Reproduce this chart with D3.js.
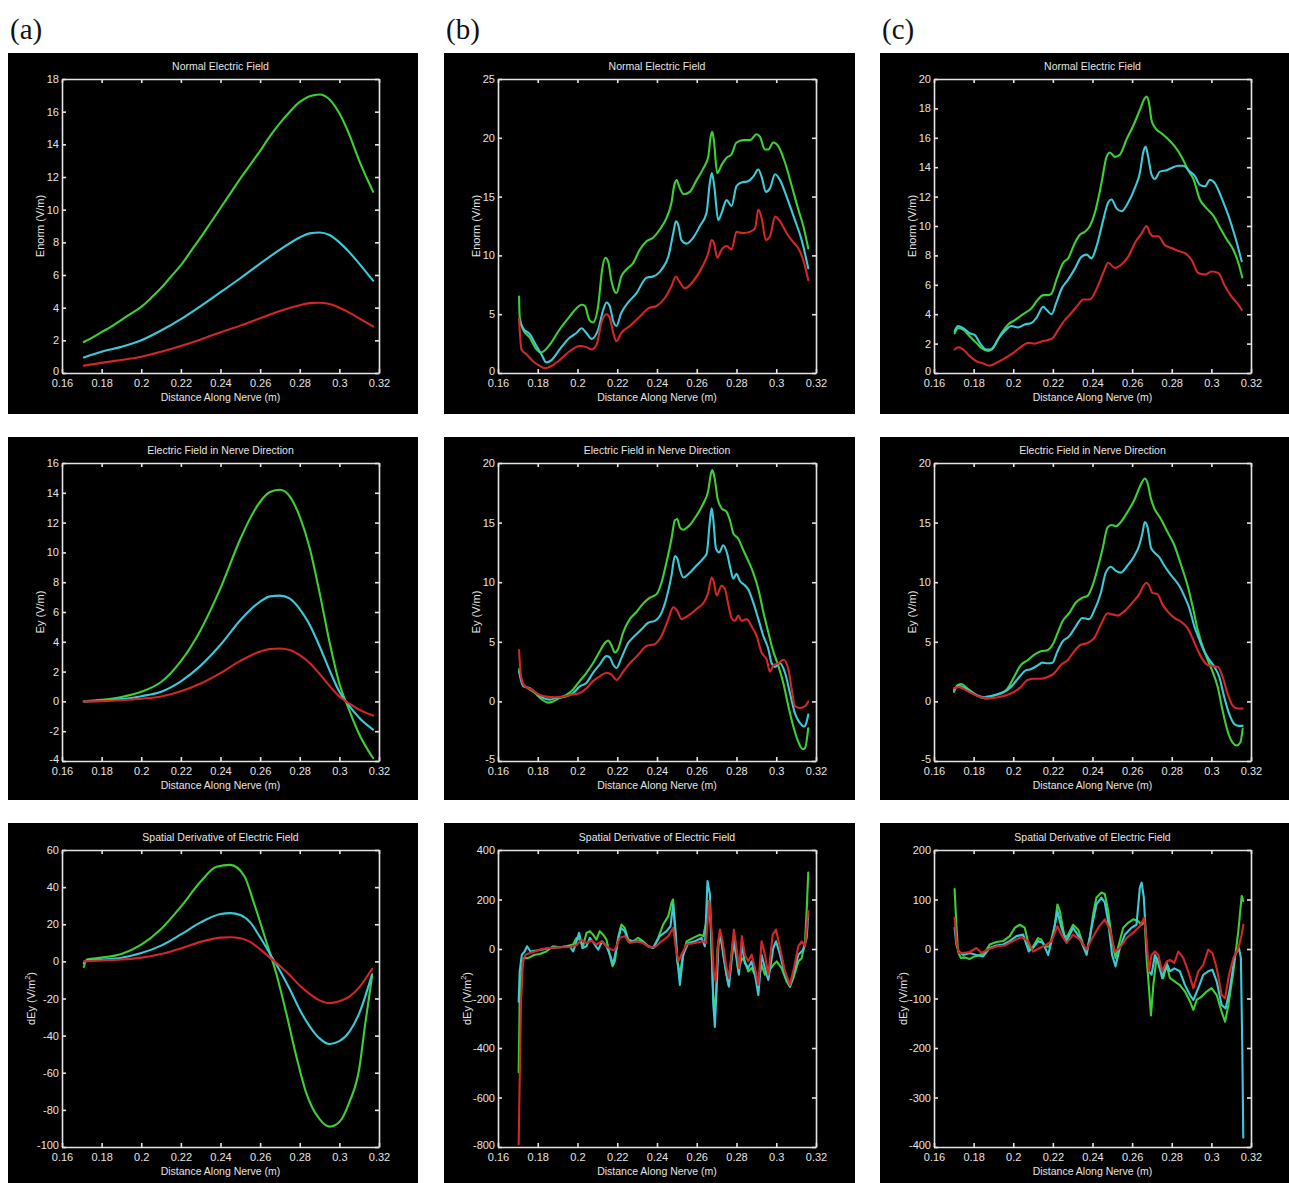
<!DOCTYPE html>
<html><head><meta charset="utf-8">
<script src="https://cdn.jsdelivr.net/npm/d3@7"></script>
<style>body{margin:0;background:#fff}svg{display:block}</style>
</head><body>
<svg id="chart" width="1289" height="1183"></svg>
<script>
// ---------------- DATA ----------------
const panelLetters = ["(a)", "(b)", "(c)"];
const rowTitles = ["Normal Electric Field", "Electric Field in Nerve Direction", "Spatial Derivative of Electric Field"];
const rowYLabels = ["Enorm (V/m)", "Ey (V/m)", "dEy (V/m"];
const xLabel = "Distance Along Nerve (m)";
const xTicks = [0.16, 0.18, 0.2, 0.22, 0.24, 0.26, 0.28, 0.3, 0.32];
const xTickLabels = ["0.16", "0.18", "0.2", "0.22", "0.24", "0.26", "0.28", "0.3", "0.32"];

const a1YTicks = [0, 2, 4, 6, 8, 10, 12, 14, 16, 18];
const b1YTicks = [0, 5, 10, 15, 20, 25];
const c1YTicks = [0, 2, 4, 6, 8, 10, 12, 14, 16, 18, 20];
const a2YTicks = [-4, -2, 0, 2, 4, 6, 8, 10, 12, 14, 16];
const b2YTicks = [-5, 0, 5, 10, 15, 20];
const c2YTicks = [-5, 0, 5, 10, 15, 20];
const a3YTicks = [-100, -80, -60, -40, -20, 0, 20, 40, 60];
const b3YTicks = [-800, -600, -400, -200, 0, 200, 400];
const c3YTicks = [-400, -300, -200, -100, 0, 100, 200];

// (a) Normal electric field
const a1Green = [[0.171,1.9],[0.175,2.15],[0.18,2.5],[0.185,2.85],[0.19,3.25],[0.195,3.65],[0.2,4.05],[0.205,4.6],[0.21,5.2],[0.215,5.9],[0.22,6.6],[0.225,7.45],[0.23,8.3],[0.235,9.2],[0.24,10.1],[0.245,11.0],[0.25,11.9],[0.255,12.75],[0.26,13.6],[0.265,14.5],[0.27,15.3],[0.275,16.0],[0.28,16.6],[0.285,16.95],[0.29,17.05],[0.295,16.75],[0.3,15.9],[0.305,14.6],[0.31,13.0],[0.317,11.1]];
const a1Cyan = [[0.171,0.95],[0.18,1.3],[0.19,1.6],[0.2,2.0],[0.21,2.6],[0.22,3.3],[0.23,4.1],[0.24,4.95],[0.25,5.8],[0.26,6.7],[0.27,7.55],[0.28,8.3],[0.285,8.55],[0.29,8.6],[0.295,8.45],[0.3,8.0],[0.305,7.4],[0.31,6.7],[0.317,5.65]];
const a1Red = [[0.171,0.45],[0.18,0.62],[0.19,0.8],[0.2,1.0],[0.21,1.3],[0.22,1.65],[0.23,2.05],[0.24,2.5],[0.25,2.9],[0.26,3.35],[0.27,3.8],[0.28,4.15],[0.285,4.28],[0.29,4.3],[0.295,4.22],[0.3,4.0],[0.305,3.7],[0.31,3.35],[0.317,2.85]];
// (a) Ey
const a2Green = [[0.171,0],[0.18,0.1],[0.19,0.3],[0.2,0.65],[0.21,1.3],[0.22,2.7],[0.23,4.8],[0.24,7.6],[0.25,10.9],[0.255,12.3],[0.26,13.4],[0.265,14.05],[0.27,14.2],[0.275,13.75],[0.28,12.4],[0.285,10.3],[0.29,7.3],[0.295,4.0],[0.3,1.2],[0.305,-0.6],[0.31,-2.2],[0.317,-3.8]];
const a2Cyan = [[0.171,0],[0.18,0.05],[0.19,0.15],[0.2,0.35],[0.21,0.65],[0.22,1.35],[0.23,2.4],[0.24,3.8],[0.25,5.45],[0.26,6.7],[0.265,7.05],[0.27,7.1],[0.275,6.9],[0.28,6.2],[0.285,5.15],[0.29,3.7],[0.295,2.1],[0.3,0.65],[0.305,-0.3],[0.31,-1.1],[0.317,-1.9]];
const a2Red = [[0.171,0],[0.18,0.02],[0.19,0.08],[0.2,0.18],[0.21,0.33],[0.22,0.68],[0.23,1.2],[0.24,1.9],[0.25,2.72],[0.26,3.35],[0.265,3.52],[0.27,3.55],[0.275,3.45],[0.28,3.1],[0.285,2.58],[0.29,1.85],[0.295,1.05],[0.3,0.33],[0.305,-0.15],[0.31,-0.55],[0.317,-0.95]];
// (a) dEy
const a3Green = [[0.171,-3],[0.1725,1],[0.18,2],[0.19,4],[0.2,9],[0.21,17.5],[0.22,29.5],[0.23,43],[0.238,51],[0.245,52],[0.252,46],[0.257,31],[0.263,11],[0.268,-6],[0.273,-27],[0.278,-50],[0.283,-70],[0.29,-85],[0.295,-89],[0.3,-86.5],[0.305,-76],[0.31,-58],[0.313,-34],[0.3165,-8]];
const a3Cyan = [[0.171,-1],[0.1725,0.5],[0.18,1],[0.19,2],[0.2,4.5],[0.21,8.5],[0.22,14.5],[0.23,21],[0.24,25.5],[0.245,26],[0.25,25],[0.255,21],[0.26,13],[0.265,4],[0.27,-5],[0.275,-15],[0.28,-26],[0.285,-35],[0.29,-41.5],[0.295,-44.5],[0.3,-43],[0.305,-38],[0.31,-28],[0.3165,-7]];
const a3Red = [[0.171,0],[0.18,0.5],[0.19,1],[0.2,2],[0.21,4],[0.22,7],[0.23,10.5],[0.24,12.8],[0.245,13],[0.25,12.5],[0.255,10.5],[0.26,6.5],[0.265,2],[0.27,-2.5],[0.275,-7.5],[0.28,-13],[0.285,-17.5],[0.29,-21],[0.295,-22.5],[0.3,-21.5],[0.305,-19],[0.31,-14],[0.3165,-4]];

// (b) Normal electric field
const b1Green = [[0.1706,6.5],[0.1709,4.8],[0.1726,3.7],[0.176,3.0],[0.179,2.1],[0.1818,1.75],[0.186,2.4],[0.191,3.7],[0.196,4.8],[0.1995,5.5],[0.202,5.8],[0.2037,5.7],[0.206,4.5],[0.2078,4.3],[0.2104,5.7],[0.2124,8.8],[0.214,9.8],[0.2154,9.5],[0.217,7.9],[0.2188,6.9],[0.2196,6.8],[0.222,8.2],[0.2246,8.8],[0.228,9.35],[0.2314,10.5],[0.2347,11.2],[0.238,11.5],[0.2414,12.2],[0.2448,13.2],[0.2473,14.5],[0.2486,15.9],[0.2498,16.4],[0.2515,15.7],[0.2535,15.2],[0.2565,15.4],[0.2599,16.4],[0.2633,17.4],[0.2658,18.4],[0.267,20.1],[0.2678,20.5],[0.2686,19.8],[0.2703,17.0],[0.2725,17.7],[0.275,18.3],[0.2775,18.6],[0.28,19.6],[0.2834,19.8],[0.2868,19.8],[0.2901,20.3],[0.2918,20.1],[0.2943,19.0],[0.296,19.0],[0.2985,19.6],[0.301,19.3],[0.3044,17.9],[0.3078,15.9],[0.3111,13.9],[0.3136,12.5],[0.3161,10.6]];
const b1Cyan = [[0.1706,4.6],[0.1726,3.8],[0.176,3.3],[0.179,2.4],[0.1818,1.6],[0.1843,0.9],[0.1869,1.1],[0.191,2.0],[0.196,3.0],[0.1995,3.4],[0.202,3.8],[0.2045,3.4],[0.207,2.9],[0.2104,3.7],[0.213,5.4],[0.2146,6.0],[0.2162,5.7],[0.218,4.4],[0.2196,4.0],[0.222,5.1],[0.2255,6.0],[0.2297,6.8],[0.2347,8.1],[0.238,8.2],[0.2423,8.8],[0.2457,9.9],[0.2482,11.9],[0.2495,12.9],[0.2507,12.6],[0.2523,11.3],[0.2549,11.0],[0.2582,11.5],[0.2616,12.5],[0.2649,13.6],[0.2666,16.2],[0.2676,17.0],[0.2688,15.9],[0.2708,13.0],[0.2725,13.6],[0.275,14.7],[0.2775,14.2],[0.28,15.9],[0.2826,16.2],[0.2859,16.3],[0.2884,16.7],[0.291,17.3],[0.2926,16.7],[0.2948,15.4],[0.2968,15.7],[0.2994,16.9],[0.3019,16.4],[0.3052,15.0],[0.3094,13.0],[0.3128,11.3],[0.3161,8.9]];
const b1Red = [[0.1706,4.6],[0.1718,2.0],[0.1743,1.6],[0.1776,1.0],[0.181,0.6],[0.1835,0.4],[0.1869,0.6],[0.191,1.1],[0.196,1.85],[0.2011,2.3],[0.2045,2.2],[0.207,2.0],[0.2096,2.4],[0.212,4.25],[0.2146,5.0],[0.2162,4.7],[0.218,3.4],[0.2196,2.7],[0.222,3.4],[0.2263,4.0],[0.2314,4.8],[0.2356,5.5],[0.2398,5.7],[0.244,6.4],[0.2473,7.4],[0.2495,8.2],[0.2515,7.7],[0.254,7.2],[0.2582,7.8],[0.2633,9.2],[0.2658,10.2],[0.2675,11.3],[0.2686,11.1],[0.2703,9.8],[0.2725,10.5],[0.275,10.8],[0.2775,10.5],[0.28,12.0],[0.2834,11.9],[0.2868,12.0],[0.2893,12.3],[0.291,13.9],[0.2926,13.2],[0.2948,11.3],[0.2968,11.6],[0.2994,13.3],[0.3019,12.9],[0.3052,11.9],[0.3086,11.1],[0.3111,10.6],[0.3136,9.6],[0.3161,7.9]];
// (b) Ey
const b2Green = [[0.1706,2.7],[0.1726,1.4],[0.1751,1.1],[0.1785,0.7],[0.1818,0.2],[0.1852,-0.1],[0.1877,0.0],[0.1911,0.3],[0.1944,0.55],[0.1978,1.0],[0.2011,1.7],[0.2045,2.4],[0.2078,3.2],[0.2112,4.2],[0.2137,4.9],[0.2154,5.1],[0.2171,4.7],[0.2188,4.1],[0.2204,4.4],[0.223,5.8],[0.2263,6.9],[0.2297,7.5],[0.233,8.2],[0.2364,8.7],[0.2398,9.0],[0.2423,10.0],[0.2448,11.7],[0.2473,13.65],[0.249,15.2],[0.2502,15.3],[0.2515,14.6],[0.2532,14.4],[0.2565,14.8],[0.2599,15.6],[0.2633,16.6],[0.2658,17.7],[0.267,19.0],[0.2678,19.4],[0.2688,18.9],[0.2705,17.0],[0.2725,16.2],[0.275,15.9],[0.2767,15.2],[0.2784,14.1],[0.2809,13.65],[0.2834,12.7],[0.2859,11.8],[0.2884,10.8],[0.291,9.4],[0.2935,7.5],[0.296,5.8],[0.2985,4.2],[0.301,3.0],[0.3036,1.5],[0.3061,-0.4],[0.3086,-2.1],[0.3111,-3.4],[0.3133,-4.0],[0.3145,-3.9],[0.3161,-2.25]];
const b2Cyan = [[0.1706,2.5],[0.1726,1.3],[0.176,1.1],[0.1793,0.7],[0.1827,0.3],[0.186,0.15],[0.1894,0.3],[0.1936,0.4],[0.1978,0.7],[0.2011,1.25],[0.2045,1.55],[0.2078,2.4],[0.2112,3.1],[0.2146,3.8],[0.2162,3.7],[0.2179,3.1],[0.2196,2.8],[0.2221,3.65],[0.2255,4.9],[0.2288,5.5],[0.2322,6.05],[0.2356,6.6],[0.2389,6.75],[0.2423,7.45],[0.2448,8.7],[0.2473,10.55],[0.249,12.2],[0.2502,12.0],[0.2515,11.1],[0.2532,10.4],[0.2565,10.8],[0.2599,11.4],[0.2633,12.0],[0.265,12.4],[0.2666,15.1],[0.2675,16.2],[0.2683,15.3],[0.2697,12.8],[0.2713,12.5],[0.2733,13.1],[0.2753,12.4],[0.277,11.1],[0.2784,10.3],[0.28,10.7],[0.2817,10.1],[0.2834,9.85],[0.2859,9.4],[0.2884,8.3],[0.291,6.9],[0.2935,5.5],[0.296,4.4],[0.2977,3.2],[0.2994,2.9],[0.3019,3.2],[0.3044,2.4],[0.3069,0.7],[0.3094,-1.0],[0.3119,-1.8],[0.314,-2.1],[0.3153,-1.7],[0.3161,-1.1]];
const b2Red = [[0.1706,4.3],[0.1716,2.1],[0.1734,1.3],[0.1768,1.0],[0.181,0.55],[0.1843,0.4],[0.1885,0.35],[0.1927,0.4],[0.1969,0.55],[0.2011,0.7],[0.2045,1.1],[0.2078,1.7],[0.2112,2.1],[0.2146,2.4],[0.2171,2.25],[0.2196,1.8],[0.223,2.5],[0.2263,3.2],[0.2305,3.9],[0.2347,4.65],[0.2389,4.8],[0.2423,5.5],[0.2457,6.9],[0.2482,7.9],[0.2502,7.6],[0.2523,6.9],[0.2557,7.2],[0.2599,7.75],[0.2641,8.45],[0.2658,9.15],[0.2675,10.4],[0.2686,10.0],[0.27,8.9],[0.2725,9.7],[0.2742,9.4],[0.2758,8.2],[0.2775,7.0],[0.2792,6.75],[0.2809,7.2],[0.2826,6.75],[0.2851,6.9],[0.2876,6.3],[0.2901,5.5],[0.2926,4.1],[0.2952,3.5],[0.2968,2.5],[0.2985,3.0],[0.301,3.2],[0.3036,3.5],[0.3061,2.7],[0.3078,1.0],[0.3094,-0.4],[0.3119,-0.55],[0.3145,-0.4],[0.3161,0.0]];
// (b) dEy
const b3Green = [[0.1704,-498],[0.1709,-213],[0.1718,-91],[0.1729,-37],[0.1751,-37],[0.1785,-23],[0.181,-20],[0.1843,-10],[0.1877,11],[0.1911,7],[0.1944,11],[0.1978,18],[0.1995,45],[0.2011,38],[0.2028,11],[0.2045,65],[0.2062,72],[0.2078,58],[0.2095,38],[0.2112,72],[0.2129,58],[0.2146,38],[0.2162,-23],[0.2176,-70],[0.2188,-50],[0.2204,45],[0.2221,99],[0.2238,85],[0.2255,38],[0.228,31],[0.2305,45],[0.233,31],[0.2356,11],[0.2381,4],[0.2406,45],[0.2431,99],[0.2457,133],[0.2473,187],[0.2481,200],[0.249,85],[0.2502,-50],[0.2515,-104],[0.2528,-37],[0.2549,31],[0.2582,45],[0.2616,58],[0.2633,52],[0.2649,113],[0.2658,194],[0.267,99],[0.268,-131],[0.2688,-267],[0.2697,-186],[0.2705,4],[0.2717,58],[0.273,4],[0.2747,-91],[0.2759,-145],[0.277,-64],[0.2784,45],[0.2797,-23],[0.2809,-91],[0.2826,-37],[0.2842,-50],[0.2859,-91],[0.2876,-77],[0.2893,-104],[0.291,-131],[0.2926,-64],[0.2943,-104],[0.296,-91],[0.2985,-64],[0.3002,-50],[0.3027,-77],[0.3052,-131],[0.3069,-152],[0.3086,-118],[0.3111,-50],[0.3128,-37],[0.3145,31],[0.3153,153],[0.3161,309]];
const b3Cyan = [[0.1704,-213],[0.1709,-91],[0.172,-23],[0.1734,-10],[0.1746,11],[0.1763,-10],[0.1785,-7],[0.1818,-3],[0.186,4],[0.1911,7],[0.1961,11],[0.1978,-10],[0.1995,31],[0.2008,65],[0.2025,4],[0.2045,11],[0.2062,45],[0.2082,24],[0.2104,-3],[0.2124,31],[0.2146,11],[0.2166,-30],[0.2179,-64],[0.2196,4],[0.2218,85],[0.2238,72],[0.2255,31],[0.2288,31],[0.2322,31],[0.2356,11],[0.2381,4],[0.2414,52],[0.2448,72],[0.2468,92],[0.2481,180],[0.2491,99],[0.2502,-37],[0.2515,-145],[0.2532,-23],[0.2557,24],[0.2591,31],[0.2624,45],[0.2641,11],[0.2654,275],[0.2666,221],[0.2675,4],[0.2683,-213],[0.2691,-315],[0.27,-159],[0.271,31],[0.272,58],[0.2733,-23],[0.275,-104],[0.2762,-152],[0.2775,-50],[0.2787,31],[0.28,-23],[0.2812,-104],[0.2827,18],[0.2842,-57],[0.2859,-77],[0.2876,-50],[0.2893,-104],[0.291,-186],[0.2926,-23],[0.2943,-77],[0.296,-125],[0.2985,4],[0.2999,31],[0.3019,-23],[0.3044,-104],[0.3069,-152],[0.3089,-91],[0.3111,-23],[0.3136,-3],[0.3153,45],[0.3161,140]];
const b3Red = [[0.1704,-789],[0.1709,-538],[0.1716,-213],[0.1726,-50],[0.1739,-23],[0.176,-16],[0.1785,-10],[0.1818,0],[0.186,4],[0.1911,7],[0.1961,8],[0.1995,15],[0.202,38],[0.2045,24],[0.207,34],[0.2095,18],[0.212,31],[0.2146,11],[0.2171,-3],[0.2188,-3],[0.2213,45],[0.2238,52],[0.2263,24],[0.2297,31],[0.233,24],[0.2364,7],[0.2389,7],[0.2423,31],[0.2457,52],[0.2481,85],[0.2495,4],[0.2508,-50],[0.2523,-23],[0.2549,18],[0.2591,24],[0.2633,31],[0.2646,24],[0.2663,194],[0.2675,72],[0.2685,-91],[0.2695,-131],[0.2708,31],[0.2717,79],[0.273,31],[0.2747,-64],[0.2762,-118],[0.2775,-23],[0.2787,79],[0.28,4],[0.2814,-77],[0.2827,52],[0.2842,-23],[0.2859,-50],[0.2876,-23],[0.2893,-77],[0.291,-145],[0.2926,31],[0.2943,-23],[0.296,-104],[0.2982,58],[0.2999,79],[0.3019,4],[0.3044,-91],[0.3069,-145],[0.3089,-77],[0.3111,11],[0.3128,31],[0.3145,11],[0.3161,153]];

// (c) Normal electric field
const c1Green = [[0.1704,2.7],[0.1721,3.05],[0.1747,2.95],[0.178,2.5],[0.1814,2.05],[0.1839,1.7],[0.1873,1.5],[0.1907,1.9],[0.194,2.7],[0.1974,3.3],[0.2008,3.6],[0.205,4.0],[0.2092,4.4],[0.2125,5.0],[0.2151,5.3],[0.2176,5.3],[0.2193,5.4],[0.2218,6.35],[0.2252,7.5],[0.2277,7.8],[0.2311,8.85],[0.2336,9.4],[0.2361,9.6],[0.2387,10.0],[0.2412,10.9],[0.2445,12.9],[0.2471,14.7],[0.2488,15.0],[0.2513,14.7],[0.2538,14.85],[0.2572,15.9],[0.2605,16.8],[0.2639,17.9],[0.2664,18.7],[0.2673,18.8],[0.2685,18.4],[0.2698,17.2],[0.2715,16.7],[0.2749,16.3],[0.2782,15.9],[0.2816,15.4],[0.285,14.7],[0.2883,13.8],[0.2909,13.2],[0.2942,11.8],[0.2976,11.2],[0.301,10.7],[0.3043,9.9],[0.3077,9.1],[0.311,8.4],[0.3136,7.5],[0.3156,6.5]];
const c1Cyan = [[0.1704,2.85],[0.1721,3.2],[0.1747,3.05],[0.178,2.7],[0.1805,2.6],[0.1831,2.05],[0.1864,1.6],[0.189,1.6],[0.1923,2.3],[0.1957,2.85],[0.1991,3.2],[0.2024,3.1],[0.2058,3.3],[0.2092,3.4],[0.2117,3.75],[0.2151,4.5],[0.2168,4.3],[0.2193,4.0],[0.2218,4.8],[0.2243,5.7],[0.2277,6.35],[0.2311,7.1],[0.2344,7.9],[0.237,8.05],[0.2395,7.8],[0.242,8.6],[0.2454,10.4],[0.2479,11.6],[0.2496,11.8],[0.2521,11.2],[0.2547,11.0],[0.258,11.6],[0.2614,12.6],[0.2639,13.6],[0.2656,15.0],[0.2668,15.4],[0.2681,14.7],[0.2698,13.5],[0.2715,13.2],[0.274,13.7],[0.2774,13.8],[0.2799,13.95],[0.2833,14.1],[0.2858,14.1],[0.2892,13.7],[0.2917,13.4],[0.2942,12.8],[0.2968,12.7],[0.2993,13.15],[0.3018,12.9],[0.3052,11.9],[0.3086,10.7],[0.3119,9.3],[0.3153,7.6]];
const c1Red = [[0.1704,1.6],[0.1725,1.75],[0.1747,1.6],[0.178,1.15],[0.1814,0.8],[0.1848,0.65],[0.1881,0.5],[0.1915,0.7],[0.1957,1.0],[0.1999,1.35],[0.2041,1.8],[0.2075,2.05],[0.2109,2.0],[0.2142,2.15],[0.2176,2.25],[0.2201,2.4],[0.2227,2.95],[0.226,3.6],[0.2294,4.1],[0.2328,4.65],[0.2353,5.0],[0.2387,5.0],[0.242,5.7],[0.2454,6.8],[0.2479,7.5],[0.2513,7.15],[0.2547,7.4],[0.258,7.9],[0.2614,8.85],[0.2648,9.5],[0.2673,10.0],[0.269,9.5],[0.2707,9.3],[0.2732,9.3],[0.2765,8.7],[0.2799,8.5],[0.2833,8.3],[0.2867,8.15],[0.29,7.7],[0.2934,6.8],[0.2968,6.7],[0.3001,6.9],[0.3035,6.8],[0.3069,5.9],[0.3102,5.2],[0.3136,4.65],[0.3153,4.3]];
// (c) Ey
const c2Green = [[0.1701,0.8],[0.1718,1.35],[0.1738,1.45],[0.1768,1.1],[0.1802,0.65],[0.1836,0.35],[0.1869,0.25],[0.1903,0.5],[0.1937,0.65],[0.197,1.05],[0.2004,2.05],[0.2038,3.05],[0.2072,3.45],[0.2105,3.9],[0.2139,4.2],[0.2173,4.3],[0.2198,4.75],[0.2223,5.7],[0.2248,6.7],[0.2282,7.4],[0.2316,8.3],[0.2349,8.7],[0.2375,8.85],[0.24,9.7],[0.2425,11.1],[0.2451,12.8],[0.2476,14.6],[0.2496,14.8],[0.2518,14.7],[0.2543,15.05],[0.2577,15.9],[0.2611,16.9],[0.2644,18.2],[0.2664,18.7],[0.2678,18.3],[0.2695,17.0],[0.2712,16.2],[0.2745,15.3],[0.2779,14.2],[0.2813,13.1],[0.2846,11.5],[0.288,9.7],[0.2905,8.0],[0.2931,6.0],[0.2956,4.6],[0.2981,3.5],[0.3006,2.5],[0.3032,1.2],[0.3057,-0.8],[0.3082,-2.5],[0.3107,-3.45],[0.3129,-3.7],[0.3146,-3.45],[0.3158,-2.3]];
const c2Cyan = [[0.1701,0.95],[0.1721,1.3],[0.1752,1.15],[0.1785,0.8],[0.1819,0.5],[0.1853,0.35],[0.1886,0.45],[0.1928,0.65],[0.197,0.95],[0.2004,1.5],[0.2038,2.2],[0.2063,2.6],[0.2088,2.7],[0.2122,3.0],[0.2147,3.25],[0.2173,3.2],[0.2198,3.25],[0.2223,4.2],[0.2248,5.0],[0.2282,5.45],[0.2316,6.3],[0.2349,7.0],[0.2383,6.9],[0.2408,7.6],[0.2442,9.1],[0.2467,10.8],[0.2493,11.3],[0.2518,10.95],[0.2543,10.8],[0.2577,11.4],[0.2611,12.2],[0.2636,13.1],[0.2653,14.2],[0.2664,15.05],[0.2678,14.6],[0.2695,12.9],[0.2712,12.5],[0.2737,12.1],[0.2762,11.4],[0.2787,10.8],[0.2813,10.25],[0.2838,9.7],[0.2863,8.85],[0.2888,7.85],[0.2914,6.3],[0.2939,5.2],[0.2964,4.2],[0.2989,3.5],[0.3015,2.9],[0.304,2.05],[0.3065,0.35],[0.309,-1.05],[0.3116,-1.9],[0.3141,-2.05],[0.3158,-2.05]];
const c2Red = [[0.1701,1.1],[0.1726,1.2],[0.176,0.95],[0.1794,0.65],[0.1836,0.35],[0.1878,0.25],[0.192,0.35],[0.1962,0.5],[0.2004,0.8],[0.2038,1.2],[0.2072,1.8],[0.2105,1.9],[0.2139,1.9],[0.2173,2.05],[0.2206,2.35],[0.224,3.05],[0.2274,3.45],[0.2307,4.2],[0.2341,4.75],[0.2375,4.9],[0.2408,5.3],[0.2442,6.45],[0.2476,7.4],[0.2501,7.3],[0.2526,7.2],[0.256,7.55],[0.2602,8.3],[0.2636,9.0],[0.2661,9.8],[0.2673,9.95],[0.2686,9.7],[0.2703,9.1],[0.2728,9.0],[0.2754,8.1],[0.2779,7.55],[0.2813,7.0],[0.2846,6.7],[0.288,6.15],[0.2905,5.3],[0.2931,4.3],[0.2956,3.5],[0.2981,3.05],[0.3006,2.95],[0.3032,2.9],[0.3057,2.05],[0.3082,0.65],[0.3107,-0.35],[0.3133,-0.6],[0.3158,-0.6]];
// (c) dEy
const c3Green = [[0.1704,121],[0.1713,49],[0.1721,-5],[0.1735,-18],[0.1755,-17],[0.178,-20],[0.1805,-15],[0.1831,-12],[0.1856,-8],[0.1881,9],[0.1915,14],[0.1949,16],[0.1982,26],[0.2008,43],[0.2033,49],[0.2058,43],[0.2083,-1],[0.21,5],[0.2125,22],[0.2142,19],[0.2159,5],[0.2184,5],[0.221,49],[0.2223,90],[0.2235,77],[0.226,22],[0.2277,29],[0.2302,49],[0.2328,39],[0.2353,9],[0.237,-5],[0.2387,22],[0.2403,70],[0.242,104],[0.2445,114],[0.2462,111],[0.2479,77],[0.2499,16],[0.2516,-18],[0.2533,9],[0.2555,43],[0.258,53],[0.2605,60],[0.2631,56],[0.2648,49],[0.2664,56],[0.2673,-18],[0.2685,-79],[0.2695,-134],[0.2707,-73],[0.2723,-18],[0.274,-39],[0.2757,-59],[0.2774,-32],[0.2791,-59],[0.2816,-66],[0.2841,-73],[0.2867,-86],[0.2892,-106],[0.2909,-123],[0.2926,-103],[0.2951,-96],[0.2976,-86],[0.3001,-79],[0.3027,-93],[0.3052,-127],[0.3069,-147],[0.3086,-113],[0.3111,-45],[0.3136,36],[0.3153,107],[0.3161,97]];
const c3Cyan = [[0.1704,43],[0.1713,9],[0.1725,-5],[0.1747,-12],[0.178,-8],[0.1814,-12],[0.1848,-15],[0.1881,2],[0.1915,7],[0.1949,9],[0.1982,16],[0.2016,26],[0.205,29],[0.2078,-5],[0.21,2],[0.2125,16],[0.2151,12],[0.2176,-12],[0.2201,29],[0.2223,77],[0.2243,43],[0.2269,16],[0.2302,43],[0.2336,22],[0.237,-12],[0.2395,43],[0.242,90],[0.2445,104],[0.2462,94],[0.2479,56],[0.2499,-12],[0.2516,-35],[0.2538,2],[0.2563,29],[0.2597,43],[0.2622,49],[0.2639,124],[0.2648,134],[0.2659,104],[0.2673,2],[0.2685,-45],[0.2698,-52],[0.2715,-12],[0.2732,-25],[0.2752,-59],[0.2774,-28],[0.2791,-45],[0.2813,-39],[0.2841,-45],[0.2867,-73],[0.2892,-93],[0.2909,-103],[0.2934,-79],[0.2959,-52],[0.2984,-45],[0.3005,-42],[0.3027,-66],[0.3052,-113],[0.3072,-120],[0.3094,-79],[0.3119,-12],[0.3139,2],[0.3149,-18],[0.3156,-201],[0.3161,-381]];
const c3Red = [[0.1704,63],[0.1713,16],[0.1725,-8],[0.1747,-8],[0.178,-6],[0.1814,2],[0.1839,-8],[0.1873,-1],[0.1915,5],[0.1957,7],[0.1999,16],[0.2041,24],[0.2075,16],[0.21,-5],[0.2134,2],[0.2168,9],[0.2193,16],[0.2223,46],[0.2243,29],[0.2269,12],[0.2302,29],[0.2336,19],[0.237,-1],[0.2395,19],[0.2429,43],[0.2462,60],[0.2488,39],[0.2513,-5],[0.2538,2],[0.2572,22],[0.2605,33],[0.2639,46],[0.2661,63],[0.2673,16],[0.2685,-45],[0.2698,-12],[0.2715,-5],[0.2732,-12],[0.2752,-45],[0.2774,-25],[0.2791,-22],[0.2813,-28],[0.2833,-5],[0.2858,-18],[0.2883,-45],[0.2909,-79],[0.2934,-45],[0.2959,-32],[0.2984,-1],[0.3005,-8],[0.3027,-39],[0.3052,-93],[0.3069,-100],[0.3089,-52],[0.3111,-18],[0.3136,2],[0.3153,29],[0.3161,49]];

// ---------------- LAYOUT / STYLE ----------------
const colBox  = [[8, 418], [444, 855], [880, 1289]];
const colPlot = [[62, 379], [498, 816], [934, 1251]];
const rowBox  = [[53, 414], [437, 800], [823, 1183]];
const rowPlot = [[79, 373], [463, 761], [850, 1147]];
const colorGreen = "#3ccf36", colorCyan = "#3cc9d8", colorRed = "#d42626";
const fg = "#e4e4e4";
const sans = "'Liberation Sans', Arial, sans-serif";

const panels = [
  {c:0,r:0,yd:[0,18],yt:a1YTicks,s:[a1Green,a1Cyan,a1Red],jag:false},
  {c:1,r:0,yd:[0,25],yt:b1YTicks,s:[b1Green,b1Cyan,b1Red],jag:false},
  {c:2,r:0,yd:[0,20],yt:c1YTicks,s:[c1Green,c1Cyan,c1Red],jag:false},
  {c:0,r:1,yd:[-4,16],yt:a2YTicks,s:[a2Green,a2Cyan,a2Red],jag:false},
  {c:1,r:1,yd:[-5,20],yt:b2YTicks,s:[b2Green,b2Cyan,b2Red],jag:false},
  {c:2,r:1,yd:[-5,20],yt:c2YTicks,s:[c2Green,c2Cyan,c2Red],jag:false},
  {c:0,r:2,yd:[-100,60],yt:a3YTicks,s:[a3Green,a3Cyan,a3Red],jag:false},
  {c:1,r:2,yd:[-800,400],yt:b3YTicks,s:[b3Green,b3Cyan,b3Red],jag:true},
  {c:2,r:2,yd:[-400,200],yt:c3YTicks,s:[c3Green,c3Cyan,c3Red],jag:true}
];
const seriesColors = [colorGreen, colorCyan, colorRed];

const svg = d3.select("#chart");

// panel letters
panelLetters.forEach((t, i) => {
  svg.append("text").attr("x", colBox[i][0] + 2).attr("y", 39)
    .attr("font-family", "'Liberation Serif', 'Times New Roman', serif")
    .attr("font-size", 29).attr("fill", "#111").text(t);
});

panels.forEach(p => {
  const [bx0, bx1] = colBox[p.c], [by0, by1] = rowBox[p.r];
  const [px0, px1] = colPlot[p.c], [py0, py1] = rowPlot[p.r];
  svg.append("rect").attr("x", bx0).attr("y", by0).attr("width", bx1 - bx0).attr("height", by1 - by0).attr("fill", "#000");

  const x = d3.scaleLinear().domain([0.16, 0.32]).range([px0, px1]);
  const y = d3.scaleLinear().domain(p.yd).range([py1, py0]);
  const g = svg.append("g");

  const line = d3.line().x(d => x(d[0])).y(d => y(d[1]))
    .curve(p.jag ? d3.curveLinear : d3.curveMonotoneX);
  p.s.forEach((ser, i) => {
    g.append("path").datum(ser).attr("d", line).attr("fill", "none")
      .attr("stroke", seriesColors[i]).attr("stroke-width", 2.1)
      .attr("stroke-linejoin", "round").attr("stroke-linecap", "round");
  });

  const styleAxis = sel => {
    sel.selectAll("path.domain").attr("stroke", fg).attr("stroke-width", 1.6);
    sel.selectAll(".tick line").attr("stroke", fg).attr("stroke-width", 1.6);
    sel.selectAll(".tick text").attr("fill", fg).attr("font-family", sans).attr("font-size", 11);
  };
  g.append("g").attr("transform", `translate(0,${py1})`)
    .call(d3.axisBottom(x).tickValues(xTicks).tickSize(-4).tickSizeOuter(0).tickPadding(6)
      .tickFormat((d, i) => xTickLabels[i])).call(styleAxis);
  g.append("g").attr("transform", `translate(0,${py0})`)
    .call(d3.axisTop(x).tickValues(xTicks).tickSize(-4).tickSizeOuter(0).tickFormat("")).call(styleAxis);
  const yAxisL = g.append("g").attr("transform", `translate(${px0},0)`)
    .call(d3.axisLeft(y).tickValues(p.yt).tickSize(-4).tickSizeOuter(0).tickPadding(3).tickFormat(d => String(d))).call(styleAxis);
  // lowest y label sits just above the x tick labels (as in the MATLAB original, slightly raised)
  yAxisL.selectAll(".tick text").filter(d => d === p.yd[0]).attr("dy", "0.1em");
  g.append("g").attr("transform", `translate(${px1},0)`)
    .call(d3.axisRight(y).tickValues(p.yt).tickSize(-4).tickSizeOuter(0).tickFormat("")).call(styleAxis);

  // title
  g.append("text").attr("x", (px0 + px1) / 2).attr("y", py0 - 13).attr("text-anchor", "middle")
    .attr("dominant-baseline", "central").attr("fill", fg).attr("font-family", sans).attr("font-size", 10.5)
    .text(rowTitles[p.r]);
  // x label
  g.append("text").attr("x", (px0 + px1) / 2).attr("y", py1 + 24).attr("text-anchor", "middle")
    .attr("dominant-baseline", "central").attr("fill", fg).attr("font-family", sans).attr("font-size", 10.5)
    .text(xLabel);
  // y label
  const off = p.r === 2 ? 31 : 22;
  const yl = g.append("text").attr("transform", `translate(${px0 - off},${(py0 + py1) / 2}) rotate(-90)`)
    .attr("text-anchor", "middle").attr("dominant-baseline", "central").attr("fill", fg)
    .attr("font-family", sans).attr("font-size", 11);
  yl.append("tspan").text(rowYLabels[p.r]);
  if (p.r === 2) {
    yl.append("tspan").attr("font-size", 7.5).attr("dy", -4).text("2");
    yl.append("tspan").attr("dy", 4).text(")");
  }
});
</script>
</body></html>
